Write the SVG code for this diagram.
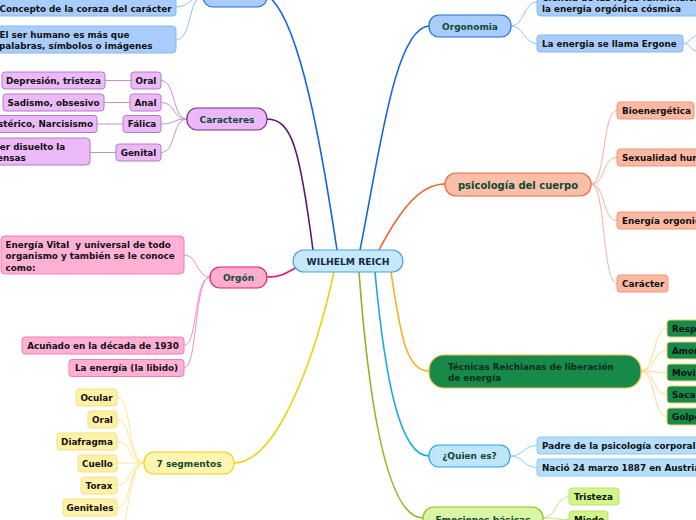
<svg xmlns="http://www.w3.org/2000/svg" width="696" height="520" viewBox="0 0 696 520">
<style>
text{font-family:"DejaVu Sans","Verdana",sans-serif;font-weight:bold;font-size:8.8px;fill:#111}
.m{fill:#0f4a32;font-size:9px}
.c{text-anchor:middle}
.main{fill:none;stroke-width:1.6}
.sub{fill:none;stroke-width:1}
.b1{fill:#a9cdfa;stroke:#1a6fdc;stroke-width:1.2}
.b2{fill:#a9cdfa;stroke:#86b8f0}
.p1{fill:#ecb8f8;stroke:#7a2a8a;stroke-width:1.2}
.p2{fill:#ecbaf8;stroke:#b47ac4}
.k1{fill:#ffaed0;stroke:#e8186a;stroke-width:1.2}
.k2{fill:#ffb0d5;stroke:#f07cb4}
.y1{fill:#fff5b0;stroke:#ecd010;stroke-width:1.2}
.y2{fill:#fff2a6;stroke:#f3e07e}
.o1{fill:#fbbea8;stroke:#f26a3a;stroke-width:1.2}
.o2{fill:#fbb9a2;stroke:#f3937a}
.g1{fill:#178a4a;stroke:#f8c040;stroke-width:1.2}
.g2{fill:#178a4a;stroke:#f5d060}
.s1{fill:#bfe5fb;stroke:#1ea5ea;stroke-width:1.2}
.s2{fill:#b5defa;stroke:#8ccaf0}
.e1{fill:#d9f6a6;stroke:#8cc21a;stroke-width:1.2}
.e2{fill:#d2f588;stroke:#bde37a}
</style>
<g id="connectors">
<path class="main" stroke="#1565e0" d="M337 250 C322 150 300 20 268 -4"/>
<path class="main" stroke="#1565e0" d="M360 250 C380 150 395 28 429 26"/>
<path class="main" stroke="#5b1a70" d="M313 250 C300 150 292 119 267 119"/>
<path class="main" stroke="#f2602a" d="M379 250 C400 210 420 184 445 184"/>
<path class="main" stroke="#e8186a" d="M297 267 C285 274 280 277 267 277"/>
<path class="main" stroke="#f0d010" d="M334 272 C318 345 280 463 234 463"/>
<path class="main" stroke="#fbb020" d="M391 272 C400 330 405 371 429 371"/>
<path class="main" stroke="#1aa8ea" d="M375 272 C385 380 400 456 429 456"/>
<path class="main" stroke="#88b818" d="M359 272 C370 420 390 518 423 518"/>
<g class="sub" stroke="#90bff5">
<path d="M203 -4 C190 -4 190 7 176 7"/>
<path d="M203 -4 C188 -4 192 40 176 40"/>
<path d="M511 26 C524 26 524 2 537 2"/>
<path d="M511 26 C524 26 524 43.5 537 43.5"/>
<path d="M683 43.5 C690 43.5 690 37 698 35"/>
<path d="M683 43.5 C690 43.5 690 50 698 52"/>
</g>
<g class="sub" stroke="#c890d0">
<path d="M187 119 C172 119 176 80.5 161 80.5"/>
<path d="M187 119 C172 119 176 102.5 161 102.5"/>
<path d="M187 119 C172 119 176 124 161 124"/>
<path d="M187 119 C172 119 176 152.5 161 152.5"/>
<path d="M105 80.5 H131"/>
<path d="M104 102.5 H130"/>
<path d="M97 124 H123"/>
<path d="M90 152.5 H116"/>
</g>
<g class="sub" stroke="#f590c0">
<path d="M210 277 C196 277 198 255 184 255"/>
<path d="M210 277 C194 277 198 345.5 184 345.5"/>
<path d="M210 277 C194 277 198 368 184 368"/>
</g>
<g class="sub" stroke="#f8e890">
<path d="M144 463 C128 463 132 397.5 117 397.5"/>
<path d="M144 463 C128 463 132 419.5 117 419.5"/>
<path d="M144 463 C128 463 132 441.5 117 441.5"/>
<path d="M144 463 H117"/>
<path d="M144 463 C128 463 132 485.5 117 485.5"/>
<path d="M144 463 C128 463 132 507.5 117 507.5"/>
<path d="M144 463 C128 463 130 532 117 532"/>
</g>
<g class="sub" stroke="#f8b09a">
<path d="M591 184 C606 184 602 110.5 617 110.5"/>
<path d="M591 184 C606 184 602 157.5 617 157.5"/>
<path d="M591 184 C606 184 602 220.5 617 220.5"/>
<path d="M591 184 C606 184 602 283.5 617 283.5"/>
</g>
<g class="sub" stroke="#fdd88a">
<path d="M641 371 C655 371 653 328.5 667 328.5"/>
<path d="M641 371 C655 371 653 350.5 667 350.5"/>
<path d="M641 371 C655 371 653 372.5 667 372.5"/>
<path d="M641 371 C655 371 653 394.5 667 394.5"/>
<path d="M641 371 C655 371 653 416.5 667 416.5"/>
</g>
<g class="sub" stroke="#8ccaf0">
<path d="M510 456 C524 456 523 445.5 537 445.5"/>
<path d="M510 456 C524 456 523 467.5 537 467.5"/>
</g>
<g class="sub" stroke="#c0e080">
<path d="M543 518 C556 518 556 496.5 569 496.5"/>
<path d="M543 518 C556 518 556 519.5 569 519.5"/>
</g>
</g>
<g id="center"><rect x="293" y="250" width="110" height="22" rx="11" fill="#c5e8fb" stroke="#4aa3d8" stroke-width="1.2"/><text class="c" x="348" y="264.5" style="fill:#0d2b4a;font-size:9.2px">WILHELM REICH</text></g>
<g id="aportes"><rect class="b1" x="203" y="-16" width="64" height="23" rx="10"/></g>
<g id="coraza"><rect class="b2" x="-10" y="-2" width="186" height="18" rx="3"/><text x="-0.5" y="11.5">Concepto de la coraza del carácter</text></g>
<g id="serhumano"><rect class="b2" x="-10" y="26" width="186" height="27" rx="4"/><text x="-0.5" y="38">El ser humano es más que</text><text x="-1" y="49">palabras, símbolos o imágenes</text></g>
<g id="caracteres"><rect class="p1" x="187" y="108" width="80" height="22" rx="10"/><text class="m c" x="227" y="122.5">Caracteres</text></g>
<g id="oral"><rect class="p2" x="131" y="72" width="30" height="17" rx="3"/><text class="c" x="146" y="83.7">Oral</text></g>
<g id="anal"><rect class="p2" x="130" y="94" width="31" height="17" rx="3"/><text class="c" x="145.5" y="105.7">Anal</text></g>
<g id="falica"><rect class="p2" x="123" y="115.5" width="38" height="17" rx="3"/><text class="c" x="142" y="127.2">Fálica</text></g>
<g id="genital"><rect class="p2" x="116" y="144" width="45" height="17" rx="3"/><text class="c" x="138.5" y="155.7">Genital</text></g>
<g id="depresion"><rect class="p2" x="2" y="72" width="103" height="17" rx="3"/><text class="c" x="53.5" y="83.7">Depresión, tristeza</text></g>
<g id="sadismo"><rect class="p2" x="3" y="94" width="101" height="17" rx="3"/><text class="c" x="53.5" y="105.7">Sadismo, obsesivo</text></g>
<g id="histerico"><rect class="p2" x="-20" y="115.5" width="117" height="17" rx="3"/><text x="93" y="127.2" text-anchor="end">Histérico, Narcisismo</text></g>
<g id="disuelto"><rect class="p2" x="-30" y="138" width="120" height="27" rx="4"/><text x="-19" y="150">Poder disuelto la</text><text x="-19" y="160.5">defensas</text></g>
<g id="orgon"><rect class="k1" x="210" y="267" width="57" height="21" rx="10"/><text class="m c" x="238.5" y="280.7">Orgón</text></g>
<g id="energiavital"><rect class="k2" x="1" y="236" width="183" height="38" rx="4"/><text x="5.5" y="247.5" xml:space="preserve" style="white-space:pre">Energía Vital  y universal de todo</text><text x="5.5" y="259.3">organismo y también se le conoce</text><text x="5.5" y="271">como:</text></g>
<g id="acunado"><rect class="k2" x="22" y="337" width="162" height="17" rx="3"/><text class="c" x="103" y="348.7">Acuñado en la década de 1930</text></g>
<g id="libido"><rect class="k2" x="69" y="359.5" width="115" height="17" rx="3"/><text class="c" x="126.5" y="371.2">La energía (la libido)</text></g>
<g id="segmentos"><rect class="y1" x="144" y="452" width="90" height="22" rx="10"/><text class="m c" x="189" y="466.5">7 segmentos</text></g>
<g id="ocular"><rect class="y2" x="76" y="389" width="41" height="17" rx="3"/><text class="c" x="96.5" y="400.7">Ocular</text></g>
<g id="oral2"><rect class="y2" x="88" y="411" width="29" height="17" rx="3"/><text class="c" x="102.5" y="422.7">Oral</text></g>
<g id="diafragma"><rect class="y2" x="57" y="433" width="60" height="17" rx="3"/><text class="c" x="87" y="444.7">Diafragma</text></g>
<g id="cuello"><rect class="y2" x="78" y="455" width="39" height="17" rx="3"/><text class="c" x="97.5" y="466.7">Cuello</text></g>
<g id="torax"><rect class="y2" x="81" y="477" width="36" height="17" rx="3"/><text class="c" x="99" y="488.7">Torax</text></g>
<g id="genitales"><rect class="y2" x="63" y="499" width="54" height="17" rx="3"/><text class="c" x="90" y="510.7">Genitales</text></g>
<g id="orgonomia"><rect class="b1" x="429" y="15" width="82" height="22" rx="10"/><text class="m c" x="470" y="29.5">Orgonomia</text></g>
<g id="ciencia"><rect class="b2" x="537" y="-12" width="170" height="28" rx="4"/><text x="542" y="1">Ciencia de las leyes funcionales de</text><text x="542" y="12">la energia orgónica cósmica</text></g>
<g id="ergone"><rect class="b2" x="537" y="35" width="146" height="17" rx="3"/><text x="542" y="46.7">La energia se llama Ergone</text></g>
<g id="psicologia"><rect class="o1" x="445" y="173" width="146" height="23" rx="11"/><text class="m c" x="518" y="188.5" style="font-size:10px">psicología del cuerpo</text></g>
<g id="bioenergetica"><rect class="o2" x="617" y="102" width="77" height="17" rx="3"/><text x="622" y="113.7">Bioenergética</text></g>
<g id="sexualidad"><rect class="o2" x="617" y="149" width="100" height="17" rx="3"/><text x="622" y="160.7">Sexualidad humana</text></g>
<g id="energiaorgonica"><rect class="o2" x="617" y="212" width="100" height="17" rx="3"/><text x="622" y="223.7">Energía orgonica</text></g>
<g id="caracter"><rect class="o2" x="617" y="275" width="51" height="17" rx="3"/><text x="622" y="286.7">Carácter</text></g>
<g id="tecnicas"><rect class="g1" x="429" y="355" width="212" height="33" rx="15"/><text x="448" y="370" style="fill:#0f2a1e">Técnicas Reichianas de liberación</text><text x="448" y="381" style="fill:#0f2a1e">de energía</text></g>
<g id="respiracion"><rect class="g2" x="667" y="320" width="60" height="17" rx="3"/><text x="672" y="331.7">Respiración</text></g>
<g id="amor"><rect class="g2" x="667" y="342" width="60" height="17" rx="3"/><text x="672" y="353.7">Amortiguar</text></g>
<g id="movimiento"><rect class="g2" x="667" y="364" width="60" height="17" rx="3"/><text x="672" y="375.7">Movimientos</text></g>
<g id="sacar"><rect class="g2" x="667" y="386" width="60" height="17" rx="3"/><text x="672" y="397.7">Sacar</text></g>
<g id="golpear"><rect class="g2" x="667" y="408" width="60" height="17" rx="3"/><text x="672" y="419.7">Golpear</text></g>
<g id="quienes"><rect class="s1" x="429" y="445" width="81" height="22" rx="10"/><text class="m c" x="469.5" y="459.3">¿Quien es?</text></g>
<g id="padre"><rect class="s2" x="537" y="437" width="170" height="17" rx="3"/><text x="542" y="448.7">Padre de la psicología corporal</text></g>
<g id="nacio"><rect class="s2" x="537" y="459" width="170" height="17" rx="3"/><text x="542" y="470.7">Nació 24 marzo 1887 en Austria</text></g>
<g id="emociones"><rect class="e1" x="423" y="507" width="120" height="24" rx="11"/><text class="m c" x="483" y="523">Emociones básicas</text></g>
<g id="tristeza"><rect class="e2" x="569" y="488" width="50" height="17" rx="3"/><text x="574" y="499.7">Tristeza</text></g>
<g id="miedo"><rect class="e2" x="569" y="511" width="39" height="17" rx="3"/><text x="574" y="522.7">Miedo</text></g>
</svg>
